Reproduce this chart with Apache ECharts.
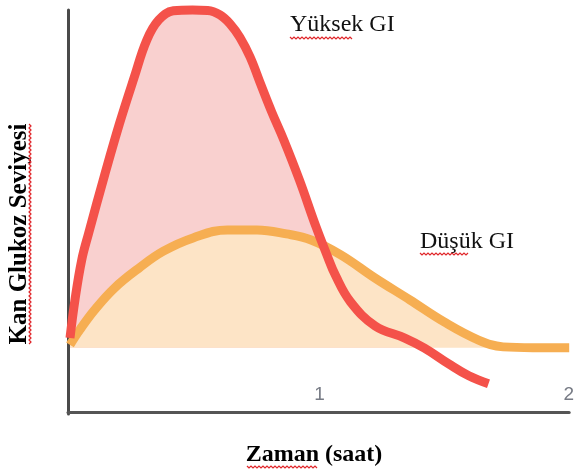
<!DOCTYPE html>
<html>
<head>
<meta charset="utf-8">
<script src="https://cdn.jsdelivr.net/npm/echarts@6/dist/echarts.min.js"></script>
<style>
  html, body { margin: 0; padding: 0; background: #fff; }
  #main { width: 577px; height: 470px; }
</style>
</head>
<body>
<div id="main"></div>
<script>
// zaman (saat) ve kan glukoz seviyesi
var baseLevel = 16;
var xTicks = [1, 2];

var highGI = [
    [0.008, 18.4], [0.028, 27.9], [0.055, 37.8], [0.083, 44.5], [0.146, 58.7],
    [0.206, 71.6], [0.265, 83.1], [0.316, 92.5], [0.364, 97.5], [0.423, 99.8],
    [0.500, 100.0], [0.561, 99.9], [0.610, 98.8], [0.650, 96.6], [0.690, 93.2],
    [0.731, 88.3], [0.775, 81.3], [0.818, 74.6], [0.866, 67.7], [0.929, 57.7],
    [0.996, 46.0], [1.036, 39.6], [1.075, 33.8], [1.134, 27.4], [1.233, 21.4],
    [1.352, 18.4], [1.431, 15.9], [1.530, 11.9], [1.609, 9.0], [1.688, 7.0]
];

var lowGI = [
    [0.008, 16.7], [0.047, 20.4], [0.107, 25.4], [0.186, 30.8], [0.285, 35.8],
    [0.383, 40.0], [0.502, 43.3], [0.640, 45.3], [0.759, 45.3], [0.877, 44.3],
    [0.976, 42.8], [1.095, 39.1], [1.233, 33.3], [1.372, 27.9], [1.510, 22.4],
    [1.648, 17.9], [1.747, 16.2], [1.866, 16.0], [2.012, 16.0]
];

// pembe alan sadece taban cizgisinin ustunde kalir
var highFill = highGI.filter(function (p) { return p[1] >= baseLevel - 0.2; });

function wavy(x1, x2, y) {
    var pts = [];
    var up = true;
    for (var x = x1; x <= x2; x += 2) {
        pts.push([x, up ? y - 1 : y + 1]);
        up = !up;
    }
    return { type: 'polyline', shape: { points: pts }, style: { stroke: '#e0262a', lineWidth: 1.2, fill: null }, z: 10 };
}
function wavyV(x, y1, y2) {
    var pts = [];
    var up = true;
    for (var y = y1; y <= y2; y += 2) {
        pts.push([up ? x - 1 : x + 1, y]);
        up = !up;
    }
    return { type: 'polyline', shape: { points: pts }, style: { stroke: '#e0262a', lineWidth: 1.2, fill: null }, z: 10 };
}

var serif = '"Liberation Serif", "Times New Roman", serif';

var chart = echarts.init(document.getElementById('main'));
chart.setOption({
    animation: false,
    backgroundColor: '#fff',
    grid: { left: 68, right: 0, top: 10, bottom: 56 },
    xAxis: {
        type: 'value', min: 0, max: 2.012, interval: 1,
        axisLine: { show: true, lineStyle: { color: '#555', width: 3 } },
        axisTick: { show: false },
        splitLine: { show: false },
        axisLabel: {
            inside: true, margin: 10, color: '#777b85', fontSize: 19,
            fontFamily: '"Liberation Sans", Arial, sans-serif',
            padding: [0, 0, 0, 5],
            formatter: function (v) { return xTicks.indexOf(v) >= 0 ? String(v) : ''; }
        }
    },
    yAxis: {
        type: 'value', min: -0.5, max: 100,
        axisLine: { show: true, lineStyle: { color: '#4a4a4a', width: 3 } },
        axisTick: { show: false },
        axisLabel: { show: false },
        splitLine: { show: false }
    },
    series: [
        {
            type: 'line', data: highFill, smooth: 0.4, symbol: 'none', clip: false,
            lineStyle: { width: 0 },
            areaStyle: { color: '#f9d0cf', opacity: 1, origin: baseLevel },
            z: 1
        },
        {
            type: 'line', data: lowGI, smooth: 0.4, symbol: 'none', clip: false,
            lineStyle: { color: '#f6ae52', width: 9 },
            areaStyle: { color: '#fde4c6', opacity: 1, origin: baseLevel },
            z: 2
        },
        {
            type: 'line', data: highGI, smooth: 0.4, symbol: 'none', clip: false,
            lineStyle: { color: '#f4524a', width: 9, cap: 'butt' },
            z: 3
        }
    ],
    graphic: [
        { type: 'text', x: 290, y: 25, style: { text: 'Yüksek GI', font: '24px ' + serif, fill: '#111', verticalAlign: 'middle' }, z: 10 },
        { type: 'text', x: 420, y: 242, style: { text: 'Düşük GI', font: '24px ' + serif, fill: '#111', verticalAlign: 'middle' }, z: 10 },
        { type: 'text', x: 314, y: 455, style: { text: 'Zaman (saat)', font: 'bold 24px ' + serif, fill: '#000', align: 'center', verticalAlign: 'middle' }, z: 10 },
        {
            type: 'text', x: 20, y: 234, rotation: Math.PI / 2,
            style: { text: 'Kan Glukoz Seviyesi', font: 'bold 25px ' + serif, fill: '#000', align: 'center', verticalAlign: 'middle' },
            z: 10
        },
        wavy(290, 353, 38),
        wavy(420, 469, 254),
        wavy(247, 318, 467),
        wavyV(30, 124, 344)
    ]
});
</script>
</body>
</html>
